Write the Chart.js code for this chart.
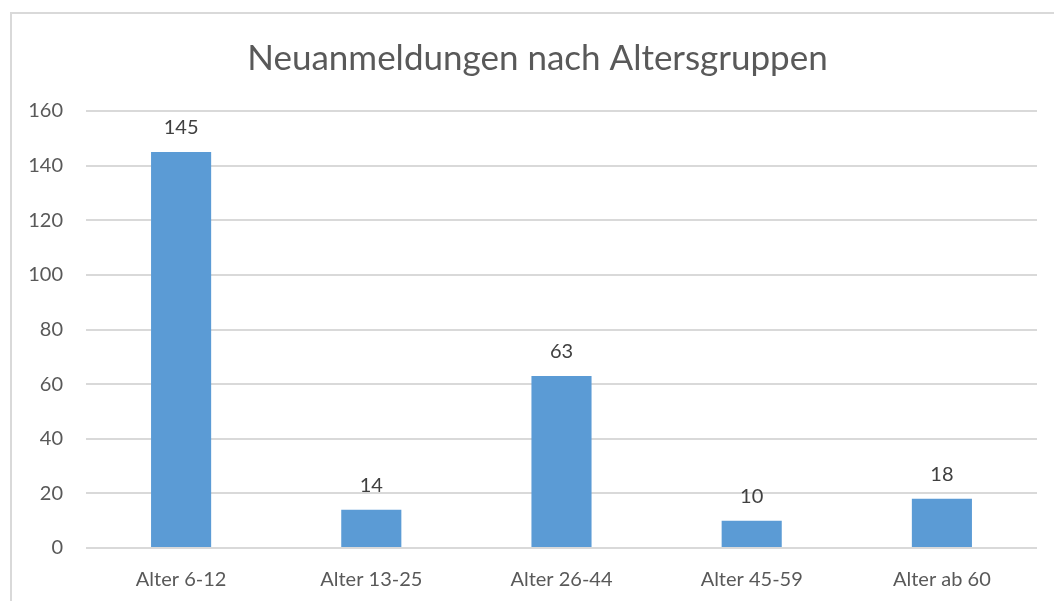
<!DOCTYPE html>
<html>
<head>
<meta charset="utf-8">
<script src="https://cdn.jsdelivr.net/npm/chart.js@4/dist/chart.umd.min.js"></script>
<style>
  html, body { margin: 0; padding: 0; background: #fff; overflow: hidden; }
  #frame {
    position: absolute; left: 10px; top: 12px;
    width: 1100px; height: 700px;
    border: 2px solid #d9d9d9; box-sizing: border-box;
  }
  #wrap { position: absolute; left: 0; top: 0; width: 1054px; height: 601px; }
</style>
</head>
<body>
<div id="frame"></div>
<div id="wrap"><canvas id="ageChart" width="1054" height="601"></canvas></div>
<script>
// Data
const categories = ['Alter 6-12', 'Alter 13-25', 'Alter 26-44', 'Alter 45-59', 'Alter ab 60'];
const registrations = [145, 14, 63, 10, 18];
const yTicks = [0, 20, 40, 60, 80, 100, 120, 140, 160];

const FONT = "Lato, 'Open Sans', sans-serif";

// Value labels above each bar
const barValueLabels = {
  id: 'barValueLabels',
  afterDatasetsDraw(chart) {
    const ctx = chart.ctx;
    const meta = chart.getDatasetMeta(0);
    ctx.save();
    ctx.font = '20px ' + FONT;
    ctx.fillStyle = '#404040';
    ctx.textAlign = 'center';
    ctx.textBaseline = 'middle';
    meta.data.forEach((bar, i) => {
      ctx.fillText(String(registrations[i]), bar.x, bar.y - 24);
    });
    ctx.restore();
  }
};

// The frame is wider than the window, so centre the title on the frame instead
const shiftTitle = {
  id: 'shiftTitle',
  afterLayout(chart) {
    const t = chart.titleBlock;
    if (t) { t.left += 19; t.right += 19; }
  }
};

const ageCtx = document.getElementById('ageChart').getContext('2d');
const ageChart = new Chart(ageCtx, {
  type: 'bar',
  data: {
    labels: categories,
    datasets: [{
      data: registrations,
      backgroundColor: '#5b9bd5',
      borderWidth: 0,
      categoryPercentage: 1,
      barPercentage: 0.316
    }]
  },
  options: {
    responsive: false,
    animation: false,
    layout: { padding: { left: 0, right: 17, top: 0, bottom: 0 } },
    plugins: {
      legend: { display: false },
      tooltip: { enabled: false },
      title: {
        display: true,
        text: 'Neuanmeldungen nach Altersgruppen',
        color: '#595959',
        font: { family: FONT, size: 35, weight: 'normal' },
        padding: { top: 38, bottom: 31 }
      }
    },
    scales: {
      x: {
        grid: { display: false, drawTicks: false },
        border: { display: false },
        ticks: { color: '#595959', font: { family: FONT, size: 20 }, padding: 20 },
        afterFit(scale) { scale.height = 53; }
      },
      y: {
        min: 0,
        max: 160,
        afterBuildTicks(scale) { scale.ticks = yTicks.map(v => ({ value: v })); },
        grid: { color: '#d9d9d9', lineWidth: 2, drawTicks: false },
        border: { display: false },
        ticks: { color: '#595959', font: { family: FONT, size: 20 }, padding: 23 },
        afterFit(scale) { scale.width = 86; }
      }
    }
  },
  plugins: [barValueLabels, shiftTitle]
});
</script>
</body>
</html>
